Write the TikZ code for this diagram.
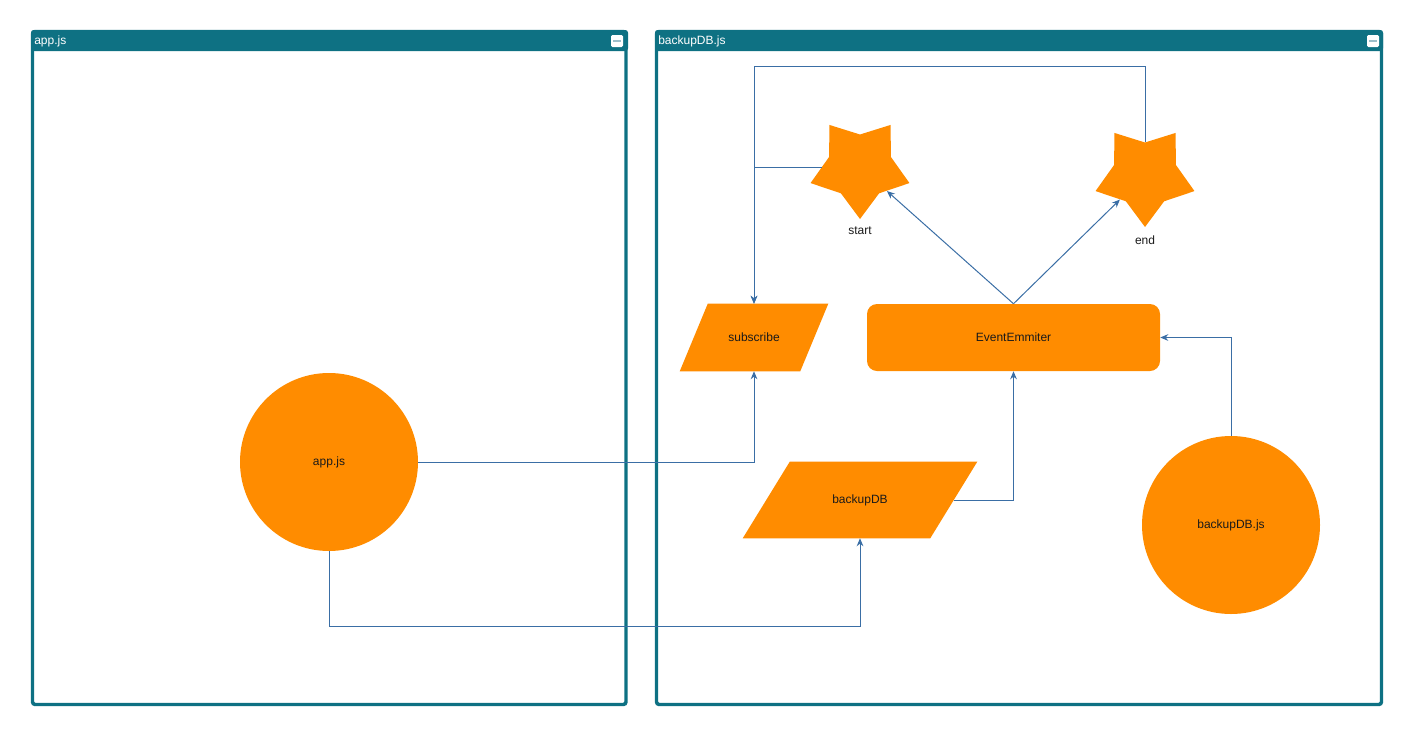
\documentclass[tikz,border=0pt]{standalone}
\usepackage{fontspec}
\setmainfont{Liberation Sans}
\usetikzlibrary{shapes.geometric,arrows.meta,calc}
\definecolor{laneteal}{HTML}{0E7183}
\definecolor{orng}{HTML}{FF8C00}
\definecolor{edgeblue}{HTML}{3A6EA5}
\definecolor{txtdark}{HTML}{1A1A1A}
\definecolor{dashgrey}{HTML}{9DBFCB}
\begin{document}
\begin{tikzpicture}[x=0.75pt,y=-0.75pt,
  lane/.style={draw=laneteal,line width=2.6pt,rounded corners=2pt},
  lanehead/.style={fill=laneteal,rounded corners=2pt},
  headtext/.style={text=white,font=\fontsize{9pt}{11pt}\selectfont,anchor=west,inner sep=0pt},
  minbox/.style={fill=white,rounded corners=1pt,minimum size=9pt,inner sep=0pt},
  conn/.style={draw=edgeblue,line width=0.75pt,-{Stealth[length=6pt,width=5pt]}},
  lbl/.style={text=txtdark,font=\fontsize{9pt}{11pt}\selectfont},
  disc/.style={circle,fill=orng,minimum size=133.5pt,inner sep=0pt,text=txtdark,font=\fontsize{9pt}{11pt}\selectfont},
  pbox/.style={rectangle,inner sep=0pt,text=txtdark,font=\fontsize{9pt}{11pt}\selectfont},
  starshape/.style={star,star points=5,star point ratio=1.6,shape border rotate=180,fill=orng,minimum size=78pt,inner sep=0pt}
]
\useasboundingbox (0,0) rectangle (1414,736);
% containers
\fill[lanehead] (31,30) rectangle (628,51);
\draw[lane] (32.5,31.5) rectangle (626,704.5);
\node[headtext] (hleft) at (34,41) {app.js};
\node[minbox] (minleft) at (617,41) {};
\draw[dashgrey,line width=1.5pt] ($(minleft.center)+(-4,0)$) -- ($(minleft.center)+(4,0)$);

\fill[lanehead] (655,30) rectangle (1383,51);
\draw[lane] (656.5,31.5) rectangle (1381.5,704.5);
\node[headtext] (hright) at (658,41) {backupDB.js};
\node[minbox] (minright) at (1373,41) {};
\draw[dashgrey,line width=1.5pt] ($(minright.center)+(-4,0)$) -- ($(minright.center)+(4,0)$);

% nodes
\node[disc] (app) at (329,462) {app.js};
\node[disc] (bjs) at (1231,525) {backupDB.js};
\node[rectangle,rounded corners=7.5pt,fill=orng,minimum width=219.75pt,minimum height=50.25pt,inner sep=0pt,text=txtdark,font=\fontsize{9pt}{11pt}\selectfont] (ee) at (1013.5,337.5) {EventEmmiter};

\node[pbox,minimum width=111pt,minimum height=50.25pt] (sub) at (754,337.5) {};
\fill[orng] (sub.south west) -- ([xshift=21pt]sub.north west) -- (sub.north east) -- ([xshift=-21pt]sub.south east) -- cycle;
\node[lbl] (subtxt) at (sub.center) {subscribe};

\node[pbox,minimum width=175.5pt,minimum height=57pt] (bdb) at (860,500) {};
\fill[orng] (bdb.south west) -- ([xshift=35.25pt]bdb.north west) -- (bdb.north east) -- ([xshift=-35.25pt]bdb.south east) -- cycle;
\node[lbl] (bdbtxt) at (bdb.center) {backupDB};
\coordinate (bdbR) at ([xshift=-17.6pt]bdb.east);

\node[starshape] (start) at (860,167) {};
\node[lbl] (starttxt) at (860,231) {start};
\node[starshape] (endstar) at (1145,175) {};
\node[lbl] (endtxt) at (1145,240) {end};

% connectors
\draw[conn] (app.east) -| (sub.south);
\draw[conn] (app.south) -- (app.south |- 0,626) -| (bdb.south);
\draw[conn] (bdbR) -| (ee.south);
\draw[conn] (bjs.north) |- (ee.east);
\draw[conn] (ee.north) -- (start);
\draw[conn] (ee.north) -- (endstar);
\draw[conn] (start) -| (sub.north);
\draw[conn] (endstar) -- (endstar |- 0,66) -| (sub.north);
\end{tikzpicture}
\end{document}
